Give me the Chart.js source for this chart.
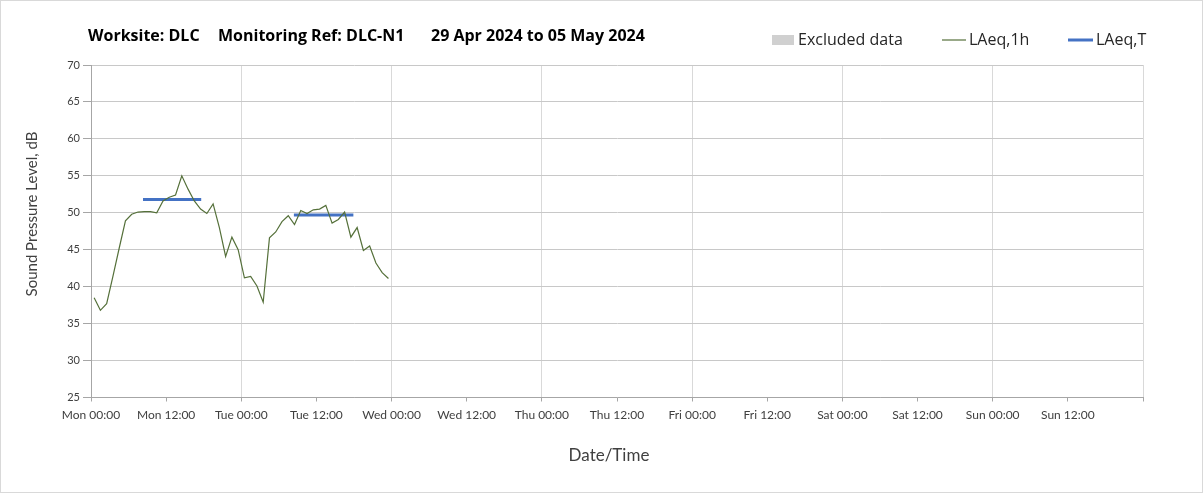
<!DOCTYPE html>
<html>
<head>
<meta charset="utf-8">
<title>DLC-N1 noise monitoring</title>
<script src="https://cdn.jsdelivr.net/npm/chart.js@4.4.1/dist/chart.umd.min.js"></script>
<style>
  html, body { margin: 0; padding: 0; background: #fff; }
  #wrap { width: 1203px; height: 493px; }
</style>
</head>
<body>
<div id="wrap"><canvas id="noise-chart" width="1203" height="493"></canvas></div>
<script>
// week axis, hours from Mon 00:00
const dayNames = ["Mon", "Tue", "Wed", "Thu", "Fri", "Sat", "Sun"];

// hourly LAeq,1h, one value per hour from Mon 00:00 (plotted mid-hour)
const laeq1h = [
  38.5, 36.8, 37.7, 41.4, 45.2, 48.9, 49.8, 50.1, 50.15, 50.15, 50.0, 51.6,
  52.1, 52.4, 55.0, 53.2, 51.6, 50.5, 49.9, 51.2, 48.0, 44.1, 46.7, 45.0,
  41.2, 41.4, 40.1, 37.9, 46.6, 47.4, 48.8, 49.6, 48.4, 50.3, 49.9, 50.4,
  50.5, 51.0, 48.6, 49.1, 50.1, 46.7, 48.0, 44.9, 45.5, 43.2, 41.9, 41.1
];

// LAeq,T over each daytime period (hours from Mon 00:00)
const laeqTFrom = [8.3, 32.4];
const laeqTTo = [17.6, 41.9];
const laeqTLevel = [51.8, 49.7];

const textFont = "Lato, 'Open Sans', sans-serif";
const headFont = "'Open Sans', Lato, sans-serif";

const hourlyPoints = laeq1h.map((v, i) => ({ x: i + 0.5, y: v }));
const periodPoints = [];
laeqTLevel.forEach((lvl, i) => {
  if (i > 0) periodPoints.push({ x: laeqTFrom[i] - 1, y: null });
  periodPoints.push({ x: laeqTFrom[i], y: lvl });
  periodPoints.push({ x: laeqTTo[i], y: lvl });
});

// header, legend, axis titles and frame
const decorations = {
  id: "decorations",
  afterDraw(chart) {
    const c = chart.ctx;
    c.save();
    c.strokeStyle = "#d9d9d9";
    c.lineWidth = 1;
    c.strokeRect(0.5, 0.5, 1202, 492);

    c.fillStyle = "#000";
    c.textBaseline = "middle";
    c.textAlign = "left";
    c.font = "bold 16px " + headFont;
    c.fillText("Worksite: DLC", 88, 36);
    c.fillText("Monitoring Ref: DLC-N1", 218, 36);
    c.fillText("29 Apr 2024 to 05 May 2024", 431, 36);

    c.font = "16px " + headFont;
    c.fillStyle = "#d0d0d0";
    c.fillRect(772, 35, 22, 10);
    c.fillStyle = "#262626";
    c.fillText("Excluded data", 798, 40);
    c.strokeStyle = "#55703a";
    c.lineWidth = 1.2;
    c.beginPath(); c.moveTo(942, 40); c.lineTo(966, 40); c.stroke();
    c.fillText("LAeq,1h", 969, 40);
    c.strokeStyle = "#4472c4";
    c.lineWidth = 3;
    c.beginPath(); c.moveTo(1068, 40); c.lineTo(1093, 40); c.stroke();
    c.fillText("LAeq,T", 1096, 40);

    c.fillStyle = "#404040";
    c.textAlign = "center";
    c.font = "17px " + textFont;
    c.fillText("Date/Time", 609, 456);
    c.translate(32, 214);
    c.rotate(-Math.PI / 2);
    c.font = "15px " + textFont;
    c.fillText("Sound Pressure Level, dB", 0, 0);
    c.restore();
  }
};

new Chart(document.getElementById("noise-chart"), {
  type: "line",
  data: {
    datasets: [
      {
        label: "LAeq,1h",
        data: hourlyPoints,
        borderColor: "#55703a",
        borderWidth: 1.2,
        pointRadius: 0,
        tension: 0,
        fill: false
      },
      {
        label: "LAeq,T",
        data: periodPoints,
        borderColor: "#4472c4",
        borderWidth: 3,
        pointRadius: 0,
        spanGaps: false,
        fill: false
      }
    ]
  },
  options: {
    responsive: false,
    animation: false,
    layout: { padding: { left: 0, top: 65, right: 60, bottom: 0 } },
    plugins: {
      legend: { display: false },
      title: { display: false },
      tooltip: { enabled: false }
    },
    scales: {
      x: {
        type: "linear",
        min: 0,
        max: 168,
        afterFit: (s) => { s.height = 95.5; },
        border: { color: "#a6a6a6" },
        grid: {
          color: (ctx) => (ctx.tick && ctx.tick.value % 24 === 0 ? "#d9d9d9" : "rgba(0,0,0,0)"),
          tickColor: "#a6a6a6",
          tickLength: 4
        },
        ticks: {
          stepSize: 12,
          autoSkip: false,
          maxRotation: 0,
          padding: 6,
          color: "#404040",
          font: { family: textFont, size: 12 },
          callback: (v) => {
            if (v >= 168) return "";
            return dayNames[Math.floor(v / 24)] + " " + (v % 24 === 0 ? "00:00" : "12:00");
          }
        }
      },
      y: {
        min: 25,
        max: 70,
        afterFit: (s) => { s.width = 91; },
        border: { color: "#a6a6a6" },
        grid: { color: "#c8c8c8", tickColor: "#a6a6a6", tickLength: 8 },
        ticks: {
          stepSize: 5,
          padding: 3,
          color: "#404040",
          font: { family: textFont, size: 11 }
        }
      }
    }
  },
  plugins: [decorations]
});
</script>
</body>
</html>
